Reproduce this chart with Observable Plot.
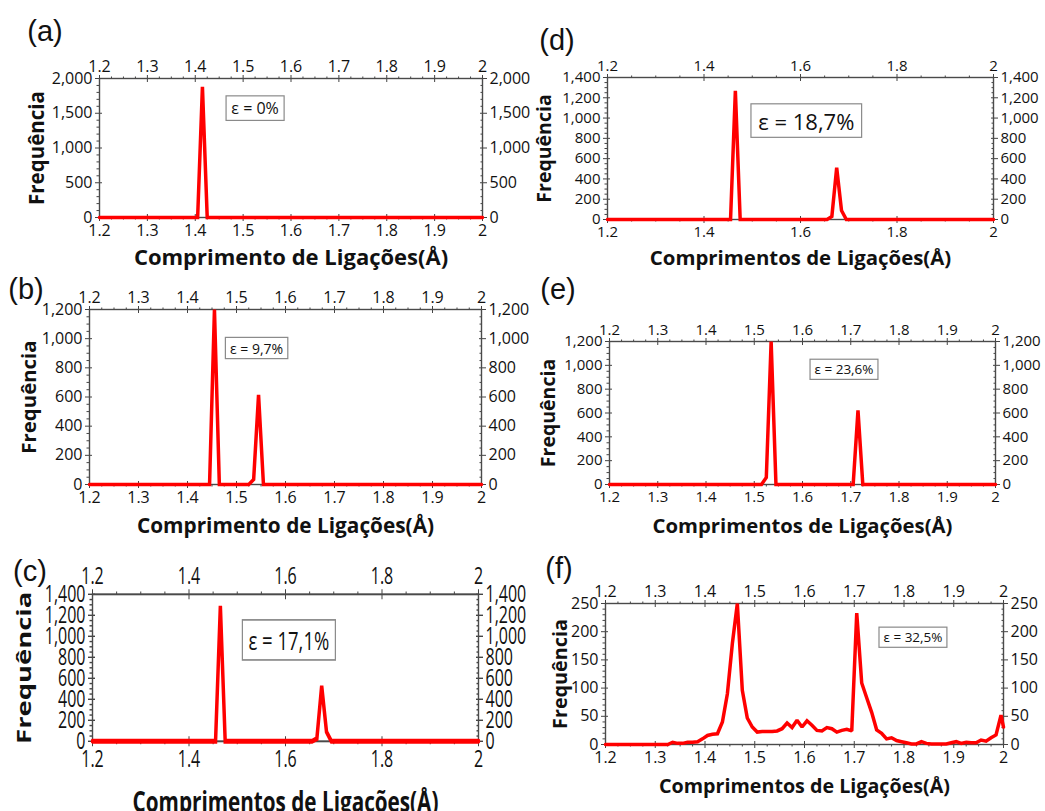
<!DOCTYPE html>
<html><head><meta charset="utf-8">
<script src="https://cdn.jsdelivr.net/npm/d3@7"></script>
<script src="https://cdn.jsdelivr.net/npm/@observablehq/plot@0.6"></script>
<style>
html,body{margin:0;padding:0;background:#fff;}
#root{position:relative;width:1045px;height:811px;overflow:hidden;font-family:"Open Sans",sans-serif;}
.panel{position:absolute;}
.plabel{position:absolute;font-family:"Liberation Sans",Arial,sans-serif;font-size:29px;color:#111;line-height:1;transform:translate(-50%,-50%);white-space:nowrap;}
svg g[aria-label="x-axis label"] text, svg g[aria-label="y-axis label"] text{font-weight:700;fill:#111;}
</style></head><body><div id="root"></div>
<script>
// ---------- data ----------
const xTicksFine = [1.2, 1.3, 1.4, 1.5, 1.6, 1.7, 1.8, 1.9, 2];
const xTicksCoarse = [1.2, 1.4, 1.6, 1.8, 2];
const yTicksA = [0, 500, 1000, 1500, 2000];
const yTicks1200 = [0, 200, 400, 600, 800, 1000, 1200];
const yTicks1400 = [0, 200, 400, 600, 800, 1000, 1200, 1400];
const yTicksF = [0, 50, 100, 150, 200, 250];

const aLen = [1.2, 1.405, 1.415, 1.425, 2.0];
const aFreq = [0, 0, 1880, 0, 0];
const bLen = [1.2, 1.445, 1.455, 1.465, 1.525, 1.535, 1.545, 1.555, 2.0];
const bFreq = [0, 0, 1200, 0, 0, 34, 615, 0, 0];
const cLen = [1.2, 1.455, 1.465, 1.475, 1.655, 1.665, 1.675, 1.685, 1.695, 2.0];
const cFreq = [0, 0, 1290, 0, 0, 25, 528, 90, 0, 0];
const dLen = [1.2, 1.455, 1.465, 1.475, 1.655, 1.665, 1.675, 1.685, 1.695, 2.0];
const dFreq = [0, 0, 1268, 0, 0, 30, 511, 89, 0, 0];
const eLen = [1.2, 1.515, 1.525, 1.535, 1.545, 1.705, 1.715, 1.725, 2.0];
const eFreq = [0, 0, 59, 1200, 0, 0, 622, 0, 0];
const fLen = [1.2, 1.325, 1.335, 1.345, 1.355, 1.365, 1.375, 1.385, 1.395, 1.405, 1.415, 1.425, 1.435, 1.445, 1.455, 1.465, 1.475, 1.485, 1.495, 1.505, 1.515, 1.525, 1.535, 1.545, 1.555, 1.565, 1.575, 1.585, 1.595, 1.605, 1.615, 1.625, 1.635, 1.645, 1.655, 1.665, 1.675, 1.685, 1.695, 1.705, 1.715, 1.725, 1.735, 1.745, 1.755, 1.765, 1.775, 1.785, 1.795, 1.805, 1.815, 1.825, 1.835, 1.845, 1.855, 1.865, 1.875, 1.885, 1.895, 1.905, 1.915, 1.925, 1.935, 1.945, 1.955, 1.965, 1.975, 1.985, 1.995, 2.0];
const fFreq = [0, 0, 4, 2, 2, 4, 4, 5, 10, 16, 18, 19, 40, 90, 179, 250, 96, 47, 31, 22, 23, 23, 23, 24, 28, 38, 30, 43, 31, 42, 34, 25, 24, 30, 28, 22, 25, 27, 24, 233, 109, 83, 57, 26, 20, 10, 12, 7, 5, 3, 1, 1, 5, 2, 1, 1, 1, 1, 3, 5, 2, 4, 3, 3, 8, 6, 12, 17, 52, 31];

const panelLabels = ["(a)", "(b)", "(c)", "(d)", "(e)", "(f)"];
const strainTexts = ["ε = 0%", "ε = 9,7%", "ε = 17,1%", "ε = 18,7%", "ε = 23,6%", "ε = 32,5%"];
const strainX = [1.525, 1.541, 1.607, 1.612, 1.686, 1.818];
const strainY = [1561, 929, 952, 956, 961, 189];
const xTitleA = "Comprimento de Ligações(Å)";
const xTitleB = "Comprimentos de Ligações(Å)";
const yTitle = "Frequência";

// ---------- layout ----------
const panels = [
  {len: aLen, freq: aFreq, xt: xTicksFine, xm: 0.025, yt: yTicksA, ym: 100, ymax: 2000, xTitle: xTitleA,
   frame: [99, 482, 78, 217], fs: 16, afs: 16, xo: 47, yo: 70, xtf: 22, ytf: 20.5, lab: [45, 31]},
  {len: bLen, freq: bFreq, xt: xTicksFine, xm: 0.025, yt: yTicks1200, ym: 50, ymax: 1200, xTitle: xTitleA,
   frame: [89, 481, 309, 484], fs: 16, afs: 14, xo: 48, yo: 68, xtf: 20.8, ytf: 20.4, lab: [26, 289]},
  {len: cLen, freq: cFreq, xt: xTicksCoarse, xm: 0.05, yt: yTicks1400, ym: 50, ymax: 1400, xTitle: xTitleB,
   frame: [92, 478, 594, 741], fs: 16, afs: 18.5, xo: 49.5, yo: 75, xtf: 20.7, ytf: 19.3, lab: [30, 571], sy: 1.42},
  {len: dLen, freq: dFreq, xt: xTicksCoarse, xm: 0.05, yt: yTicks1400, ym: 50, ymax: 1400, xTitle: xTitleB,
   frame: [607, 993, 77, 219], fs: 15, afs: 22, xo: 45, yo: 70, xtf: 20.4, ytf: 19.5, lab: [557, 40]},
  {len: eLen, freq: eFreq, xt: xTicksFine, xm: 0.025, yt: yTicks1200, ym: 50, ymax: 1200, xTitle: xTitleB,
   frame: [609, 995, 341, 484], fs: 15, afs: 13.5, xo: 48, yo: 68, xtf: 20.3, ytf: 19.5, lab: [558, 289]},
  {len: fLen, freq: fFreq, xt: xTicksFine, xm: 0.025, yt: yTicksF, ym: 10, ymax: 250, xTitle: xTitleB,
   frame: [605, 1003, 603, 744], fs: 16, afs: 13.5, xo: 48, yo: 53, xtf: 19.7, ytf: 19.8, lab: [559, 568]}
];

const root = document.getElementById("root");
const mL = 80, mR = 55, mT = 30, mB = 60;
const fx = d3.format("~g"), fy = d3.format(",");
const tickColor = "#444";

panels.forEach((p, i) => {
  const sy = p.sy || 1;
  const fw = p.frame[1] - p.frame[0];
  const fh = (p.frame[3] - p.frame[2]) / sy;
  const data = p.len.map((x, j) => ({x, y: p.freq[j]}));
  const xMinor = d3.range(1.2, 2.0001, p.xm).filter(v => !p.xt.some(t => Math.abs(t - v) < 1e-6));
  const yMinor = d3.range(0, p.ymax + 0.001, p.ym).filter(v => !p.yt.includes(v));
  const annot = [{x: strainX[i], y: strainY[i], t: strainTexts[i]}];
  const common = {fontSize: p.fs, stroke: tickColor, fill: "#111", tickSize: 4, tickPadding: 3};
  const bare = {stroke: tickColor, fill: "none", label: null};
  const svg = Plot.plot({
    width: mL + fw + mR, height: mT + fh + mB,
    marginLeft: mL, marginRight: mR, marginTop: mT, marginBottom: mB,
    style: {background: "transparent", overflow: "visible", fontFamily: "'Open Sans', sans-serif"},
    x: {domain: [1.2, 2]},
    y: {domain: [0, p.ymax]},
    marks: [
      // major ticks with labels (outward) and their inward halves
      Plot.axisX({anchor: "top", ticks: p.xt, tickFormat: fx, label: null, ...common}),
      Plot.axisX({anchor: "bottom", ticks: p.xt, tickFormat: fx, ...common,
        label: p.xTitle, labelAnchor: "center", labelOffset: p.xo, labelArrow: "none"}),
      Plot.axisY({anchor: "left", ticks: p.yt, tickFormat: fy, ...common,
        label: yTitle, labelAnchor: "center", labelOffset: p.yo, labelArrow: "none"}),
      Plot.axisY({anchor: "right", ticks: p.yt, tickFormat: fy, label: null, ...common}),
      Plot.axisX({anchor: "top", ticks: p.xt, tickSize: -3, ...bare}),
      Plot.axisX({anchor: "bottom", ticks: p.xt, tickSize: -3, ...bare}),
      Plot.axisY({anchor: "left", ticks: p.yt, tickSize: -3, ...bare}),
      Plot.axisY({anchor: "right", ticks: p.yt, tickSize: -3, ...bare}),
      // minor ticks
      Plot.axisX({anchor: "top", ticks: xMinor, tickSize: 2.5, ...bare}),
      Plot.axisX({anchor: "bottom", ticks: xMinor, tickSize: 2.5, ...bare}),
      Plot.axisY({anchor: "left", ticks: yMinor, tickSize: 2.5, ...bare}),
      Plot.axisY({anchor: "right", ticks: yMinor, tickSize: -2.5, ...bare}),
      Plot.frame({stroke: "#4a4a4a", strokeWidth: 1.4}),
      Plot.line(data, {x: "x", y: "y", stroke: "#ff0000", strokeWidth: 3.5, strokeLinejoin: "miter", strokeMiterlimit: 1.6}),
      Plot.text(annot, {x: "x", y: "y", text: "t", fontSize: p.afs, fill: "#111"})
    ]
  });
  const xl = svg.querySelector('g[aria-label="x-axis label"] text');
  if (xl) xl.style.fontSize = p.xtf + "px";
  const yl = svg.querySelector('g[aria-label="y-axis label"] text');
  if (yl) yl.style.fontSize = p.ytf + "px";
  const div = document.createElement("div");
  div.className = "panel";
  div.style.left = (p.frame[0] - mL) + "px";
  div.style.top = (p.frame[2] - mT * sy) + "px";
  div.style.width = (mL + fw + mR) + "px";
  if (sy !== 1) {
    div.style.transform = `scaleY(${sy})`;
    div.style.transformOrigin = "top left";
  }
  div.appendChild(svg);
  root.appendChild(div);
  // box around annotation
  const t = svg.querySelector('g[aria-label="text"] text');
  if (t) {
    const bb = t.getBBox();
    const padX = p.afs * 0.33, padY = p.afs * 0.08;
    const r = document.createElementNS("http://www.w3.org/2000/svg", "rect");
    r.setAttribute("x", bb.x - padX);
    r.setAttribute("y", bb.y - padY);
    r.setAttribute("width", bb.width + 2 * padX);
    r.setAttribute("height", bb.height + 2 * padY);
    const tr = t.getAttribute("transform");
    if (tr) r.setAttribute("transform", tr);
    r.setAttribute("fill", "#fff");
    r.setAttribute("stroke", "#8a8a8a");
    r.setAttribute("stroke-width", "1.2");
    t.parentNode.insertBefore(r, t);
  }
  const lab = document.createElement("div");
  lab.className = "plabel";
  lab.style.left = p.lab[0] + "px";
  lab.style.top = p.lab[1] + "px";
  lab.textContent = panelLabels[i];
  root.appendChild(lab);
});
</script></body></html>
